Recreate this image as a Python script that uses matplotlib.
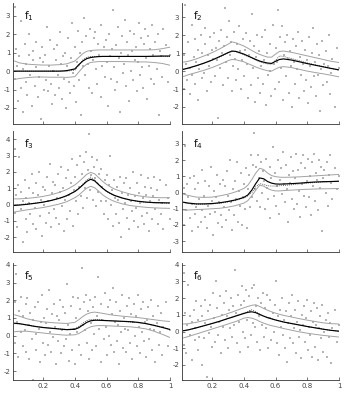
import matplotlib
matplotlib.use("Agg")
import matplotlib.pyplot as plt

plt.rcParams["font.family"] = ["DejaVu Sans"]
plt.rcParams["axes.unicode_minus"] = False

# ---- sample locations (shared by all six functions) ----
x_obs = [0.02, 0.025, 0.03, 0.037, 0.044, 0.05, 0.058, 0.063, 0.07, 0.076,
         0.083, 0.09, 0.095, 0.101, 0.108, 0.114, 0.12, 0.127, 0.133, 0.139,
         0.146, 0.152, 0.158, 0.165, 0.171, 0.178, 0.184, 0.19, 0.197, 0.203,
         0.21, 0.216, 0.222, 0.229, 0.235, 0.242, 0.248, 0.254, 0.261, 0.267,
         0.274, 0.28, 0.286, 0.293, 0.299, 0.306, 0.312, 0.318, 0.325, 0.331,
         0.338, 0.344, 0.35, 0.357, 0.363, 0.37, 0.376, 0.382, 0.389, 0.395,
         0.402, 0.408, 0.414, 0.421, 0.427, 0.434, 0.44, 0.446, 0.453, 0.459,
         0.466, 0.472, 0.478, 0.485, 0.491, 0.498, 0.504, 0.51, 0.517, 0.523,
         0.53, 0.536, 0.542, 0.549, 0.555, 0.562, 0.568, 0.574, 0.581, 0.587,
         0.594, 0.6, 0.606, 0.613, 0.619, 0.626, 0.632, 0.638, 0.645, 0.651,
         0.658, 0.664, 0.67, 0.677, 0.683, 0.69, 0.696, 0.702, 0.709, 0.715,
         0.722, 0.728, 0.734, 0.741, 0.747, 0.754, 0.76, 0.766, 0.773, 0.779,
         0.786, 0.792, 0.798, 0.805, 0.811, 0.818, 0.824, 0.83, 0.837, 0.843,
         0.85, 0.856, 0.862, 0.869, 0.875, 0.882, 0.888, 0.894, 0.901, 0.907,
         0.916, 0.923, 0.93, 0.937, 0.944, 0.951, 0.958, 0.972, 0.986, 0.999]

y1_obs = [3.5, -0.4, 1.2, 0.3, -1.6, 0.8, 2.7, -0.9, 0.1, -2.2,
          1.5, -0.6, 0.4, -1.3, 0.9, 2.0, -0.2, -1.9, 0.6, 1.1,
          -0.8, 0.2, 1.6, -1.4, -0.3, 0.7, -2.6, 1.3, 0.5, -1.0,
          0.9, -0.5, 2.4, -1.1, 0.3, 1.7, -0.7, -1.8, 0.0, 1.2,
          -1.3, 0.6, 1.4, -0.2, -0.9, 2.1, 0.4, -1.5, 0.8, -0.4,
          1.0, -2.0, 0.3, 1.8, -0.6, -1.2, 0.7, 2.6, -0.1, -0.8,
          1.3, -1.7, 0.5, 2.2, -0.5, 1.0, -2.4, 1.6, 0.3, 2.9,
          -0.2, 1.9, 3.8, 0.4, -0.9, 2.3, 1.1, -1.2, 0.6, 1.8,
          2.1, 0.1, -0.7, 1.5, 0.9, -1.4, 2.5, 0.3, 1.3, -0.3,
          1.7, 0.5, -1.9, 2.0, 0.8, -0.4, 1.2, 3.3, 0.2, -1.0,
          1.4, -0.6, 2.4, 0.7, -2.2, 1.0, 1.9, -0.1, 0.4, 2.8,
          -0.8, 1.6, 0.9, -1.6, 2.2, 0.0, 1.1, -0.5, 2.0, 0.6,
          1.3, -1.1, 0.5, 2.6, -0.2, 1.8, 0.2, -0.9, 1.5, 2.3,
          0.7, -1.5, 1.9, 0.3, 1.2, -0.4, 2.5, 0.9, -0.7, 1.6,
          0.1, 2.0, -2.4, 1.1, 0.8, -0.3, 2.3, 1.4, -0.6, 0.9]

y2_obs = [0.9, -1.0, 3.7, 0.4, -0.5, 1.6, -1.3, 0.2, 2.6, -0.2,
          0.8, 1.8, -0.7, 0.5, -1.6, 1.2, 0.1, 2.0, -0.4, 1.0,
          -0.1, 1.5, 2.4, -1.1, 0.9, 0.3, 1.9, -0.6, 1.2, 0.7,
          2.1, -0.3, 1.3, 0.6, -2.6, 1.7, 0.2, 2.3, 1.0, -0.8,
          1.4, 3.5, 0.5, 1.9, -0.4, 2.8, 0.9, 1.6, -1.1, 0.3,
          2.2, 0.7, -0.5, 1.5, 0.1, 2.5, 1.1, -1.0, 0.6, 1.8,
          -0.3, 1.2, 2.1, 0.4, -1.5, 0.9, 1.7, -0.8, 3.2, 0.2,
          1.4, -1.7, 0.8, 2.0, -0.4, 1.1, -1.2, 0.3, 1.9, -0.7,
          0.6, 2.3, -1.9, 1.0, -0.2, 1.5, 0.0, -1.4, 2.6, 0.4,
          -1.0, 1.3, 0.5, 3.4, -0.6, 1.9, 0.2, 2.5, -1.6, 0.9,
          1.6, -0.3, 2.0, 0.7, -1.2, 1.1, 0.3, -2.0, 1.8, 0.5,
          -0.7, 1.4, 0.1, 2.2, -1.5, 0.8, -0.2, 1.7, 0.4, -1.1,
          1.2, -0.5, 0.6, -1.8, 1.9, 0.3, -0.9, 1.0, 2.4, -0.3,
          0.5, -1.4, 1.5, -0.2, 0.9, -2.2, 0.1, 1.7, -0.8, 0.4,
          1.1, -0.6, 0.3, 2.0, -1.3, -0.1, 0.7, -2.0, 1.3, 0.2]

y3_obs = [-0.5, 3.4, 0.6, -1.4, 1.2, 2.9, -0.3, 0.8, -2.3, 0.2,
          1.5, -0.9, 0.4, -1.7, 1.0, 0.1, -0.6, 1.9, -1.2, 0.7,
          -0.2, 1.3, -1.5, 0.6, 2.0, -0.7, 0.3, -1.9, 1.1, 0.0,
          0.9, -1.1, 1.7, 0.2, -0.5, 2.5, -1.4, 0.7, 1.4, -0.3,
          1.2, -0.8, 0.4, 1.9, -1.2, 0.8, 2.3, -0.1, 1.0, -1.6,
          0.3, 1.6, -0.9, 2.1, 0.6, -0.4, 1.3, 2.8, -1.3, 0.9,
          1.7, 0.2, 2.4, -0.6, 1.1, 3.0, 0.5, 1.9, -0.2, 2.6,
          1.0, 3.2, 0.4, 2.1, 4.3, 0.9, 1.8, 2.9, 0.3, 2.3,
          1.6, -0.1, 2.7, 0.8, 1.9, 0.2, 2.2, 1.1, -0.6, 1.5,
          0.2, 1.8, -0.9, 1.2, 3.0, 0.0, 0.9, -1.3, 1.5, 0.4,
          -0.6, 1.1, 0.3, -1.1, 1.7, -2.0, 0.7, -0.3, 1.3, 0.1,
          1.6, -0.8, 0.6, -1.5, 1.0, 0.2, -0.4, 2.0, -1.0, 0.5,
          -0.2, 1.3, -1.4, 0.7, 0.1, 1.8, -0.7, 0.4, -1.2, 1.1,
          0.6, -0.5, 1.6, -1.6, 0.2, 1.0, -0.9, 0.5, 1.7, -0.3,
          0.9, -1.2, 0.3, 1.5, -0.6, 0.1, -1.5, 1.2, 0.4, -0.9]

y4_obs = [0.3, -2.0, 2.9, -1.1, 0.5, -0.3, -1.6, 0.9, -2.4, -0.7,
          1.0, -1.3, 0.2, -0.9, -2.1, 0.6, -0.4, -1.8, 1.4, -1.1,
          -0.2, -1.5, 0.7, -2.2, -0.8, 0.4, -1.3, 1.6, -0.5, -2.6,
          0.1, -1.2, -0.3, 1.1, -1.9, -0.6, 0.5, -1.4, -2.1, 0.8,
          -0.9, 0.4, -1.7, 1.3, -0.2, -1.1, 2.0, -0.6, -2.3, 0.2,
          -1.4, 0.7, -0.4, 1.9, -1.8, 0.1, -0.8, 1.2, -2.0, -0.3,
          0.5, -1.0, 1.5, -2.2, 0.2, 1.1, -0.9, 2.3, -0.3, 1.7,
          3.7, 0.2, 1.6, -0.5, 2.3, 0.9, -0.9, 1.9, 0.0, 1.3,
          0.7, -1.0, 2.1, 0.3, -0.4, 1.6, -1.6, 0.9, 2.8, -0.2,
          1.2, -0.8, 0.4, 2.0, -1.3, 0.8, 1.5, -0.1, 2.5, 0.5,
          -0.6, 1.7, 0.2, -1.8, 1.1, 0.6, 2.2, -0.4, 1.3, -1.0,
          0.9, 2.4, -0.7, 1.4, 0.1, -1.5, 1.8, 0.5, 2.3, -0.2,
          1.5, -0.9, 0.7, 2.1, -0.3, 1.0, -1.4, 1.9, 0.4, 2.4,
          -0.5, 1.2, 0.8, -1.1, 2.0, 0.3, 1.6, -2.4, 0.9, 1.4,
          0.0, 1.9, -0.8, 1.1, 2.3, 0.6, -0.4, 1.5, 0.2, 1.0]

y5_obs = [1.9, -0.4, 3.5, 0.8, -1.2, 1.4, 0.2, 2.2, -0.6, 1.1,
          0.3, 1.8, -0.9, 2.1, 0.6, -1.3, 1.3, -0.2, 0.9, -2.5,
          1.6, 0.1, -0.8, 1.9, 0.4, -1.5, 0.8, 2.3, -0.4, 1.0,
          -1.1, 0.7, 1.5, -0.5, 2.6, 0.2, -0.9, 1.2, -0.1, 1.8,
          0.5, -1.6, 1.1, -0.3, 0.9, 2.0, -1.0, 0.3, 1.6, -0.6,
          1.3, -0.2, 2.9, 0.6, -1.4, 0.1, 1.7, -0.8, 2.2, 0.4,
          -1.6, 1.0, 0.2, 2.1, -0.5, 1.5, -1.1, 3.8, 0.6, 1.9,
          0.3, 2.3, -0.4, 1.4, -1.3, 2.0, 0.7, -0.8, 1.6, 0.1,
          2.2, -0.6, 1.1, 3.3, 0.4, -1.5, 1.8, 0.9, -0.2, 2.4,
          0.5, -1.1, 1.6, 0.0, 2.0, -0.5, 1.2, 2.7, -0.9, 0.8,
          1.9, -0.3, 0.6, -1.6, 1.4, 0.2, 2.3, -0.7, 1.0, 0.4,
          -0.9, 1.7, 0.3, 2.1, -0.4, 1.2, -1.3, 0.8, 1.8, 0.0,
          1.1, -0.6, 2.3, 0.5, -1.0, 1.5, 0.2, 1.9, -0.3, 0.8,
          -1.2, 0.9, 1.6, -0.2, 0.4, 2.0, -0.8, 1.1, 0.3, -1.5,
          0.7, 1.7, -0.5, 0.2, 1.3, -1.1, 0.5, 1.9, -0.6, 0.3]

y6_obs = [3.5, -0.8, 1.1, -1.3, 0.4, 2.8, -0.2, 0.9, -1.7, 0.6,
          1.3, -0.5, 0.2, 1.8, -1.1, 0.7, -0.3, 1.5, -2.0, 0.9,
          -0.4, 1.9, 0.5, -2.7, 1.2, -0.1, 1.6, 0.3, -0.9, 2.3,
          0.8, -0.6, 3.0, 1.4, -0.2, 0.6, 2.1, -1.3, 1.0, 0.3,
          1.7, -0.5, 2.4, 0.9, -1.0, 1.3, 0.2, 2.0, -0.3, 1.5,
          0.4, 3.7, 1.1, -0.7, 2.2, 0.6, -1.2, 1.6, 2.7, 0.0,
          1.8, -0.4, 2.5, 0.7, -0.9, 2.1, 1.2, -0.2, 2.6, 0.5,
          2.8, 0.3, 1.5, -0.6, 2.0, 0.9, -1.1, 1.7, 0.4, 2.3,
          -0.3, 1.4, 0.2, 2.2, -1.0, 0.8, 1.9, -0.5, 1.1, 0.0,
          1.6, 3.0, -0.7, 0.9, -1.4, 1.3, 0.3, 2.0, -0.2, 0.7,
          -1.0, 1.2, -1.8, 0.5, 1.7, -0.4, 0.9, 2.2, -0.7, 0.2,
          1.3, -1.3, 0.6, 1.8, -0.3, 0.1, -1.6, 1.0, 0.4, 1.5,
          -0.6, 0.8, 1.9, -1.1, 0.3, -0.2, 1.2, -1.5, 0.6, 1.7,
          -0.9, 0.4, 1.4, -1.7, 0.2, 0.9, -0.4, 1.6, -1.2, 0.0,
          0.7, -1.5, 1.1, -0.3, 0.5, -1.9, 0.2, 1.3, -0.6, 0.4]

# ---- curve knots (estimate, truth, band) ----
x_grid = [0.02, 0.05, 0.1, 0.15, 0.2, 0.25, 0.3, 0.325, 0.35, 0.4, 0.425, 0.45, 0.475,
          0.5, 0.525, 0.55, 0.575, 0.6, 0.625, 0.65, 0.7, 0.75, 0.8, 0.85, 0.9, 0.95, 1.0]

f1_mean = [0, 0, 0, 0, 0, 0, 0, 0.01, 0.03, 0.12, 0.35, 0.55, 0.68,
           0.74, 0.77, 0.79, 0.8, 0.8, 0.8, 0.8, 0.8, 0.8, 0.8, 0.8, 0.81, 0.82, 0.82]
f1_true = [0, 0, 0, 0, 0, 0, 0, 0, 0, 0.05, 0.3, 0.6, 0.75,
           0.8, 0.8, 0.8, 0.8, 0.8, 0.8, 0.8, 0.8, 0.8, 0.8, 0.8, 0.8, 0.8, 0.8]
f1_up = [0.55, 0.45, 0.38, 0.35, 0.33, 0.33, 0.35, 0.37, 0.4, 0.55, 0.75, 0.95, 1.08,
         1.12, 1.14, 1.15, 1.15, 1.15, 1.15, 1.15, 1.15, 1.15, 1.15, 1.15, 1.16, 1.22, 1.3]
f1_lo = [-0.45, -0.4, -0.35, -0.32, -0.32, -0.33, -0.33, -0.33, -0.34, -0.3, -0.05, 0.2, 0.38,
         0.47, 0.5, 0.52, 0.52, 0.52, 0.52, 0.52, 0.52, 0.51, 0.5, 0.5, 0.47, 0.42, 0.32]

f2_mean = [0.1, 0.17, 0.3, 0.45, 0.62, 0.82, 1.03, 1.12, 1.1, 0.95, 0.85, 0.75, 0.65,
           0.56, 0.5, 0.45, 0.43, 0.55, 0.65, 0.68, 0.62, 0.52, 0.42, 0.33, 0.24, 0.15, 0.07]
f2_true = [0.12, 0.18, 0.3, 0.44, 0.6, 0.8, 1.0, 1.1, 1.08, 0.92, 0.82, 0.72, 0.62,
           0.52, 0.45, 0.4, 0.38, 0.6, 0.85, 0.82, 0.7, 0.58, 0.46, 0.35, 0.25, 0.15, 0.06]
f2_up = [0.5, 0.55, 0.68, 0.85, 1.03, 1.25, 1.5, 1.63, 1.58, 1.4, 1.28, 1.15, 1.03,
         0.93, 0.85, 0.78, 0.78, 0.95, 1.1, 1.12, 1.05, 0.95, 0.85, 0.75, 0.65, 0.55, 0.48]
f2_lo = [-0.3, -0.2, -0.08, 0.05, 0.2, 0.38, 0.58, 0.65, 0.63, 0.52, 0.42, 0.33, 0.23,
         0.15, 0.08, 0.02, 0.0, 0.12, 0.22, 0.25, 0.2, 0.1, 0.0, -0.08, -0.15, -0.23, -0.32]

f3_mean = [-0.05, -0.03, 0.02, 0.08, 0.15, 0.25, 0.38, 0.46, 0.55, 0.8, 0.98, 1.2, 1.42,
           1.55, 1.45, 1.22, 1.0, 0.82, 0.68, 0.56, 0.4, 0.28, 0.2, 0.15, 0.12, 0.11, 0.1]
f3_true = [0.0, 0.01, 0.04, 0.09, 0.16, 0.25, 0.37, 0.45, 0.54, 0.8, 1.0, 1.25, 1.5,
           1.68, 1.5, 1.25, 1.0, 0.8, 0.66, 0.54, 0.38, 0.27, 0.19, 0.14, 0.11, 0.1, 0.09]
f3_up = [0.35, 0.35, 0.38, 0.43, 0.5, 0.6, 0.74, 0.83, 0.92, 1.2, 1.4, 1.62, 1.85,
         1.97, 1.88, 1.65, 1.42, 1.23, 1.08, 0.95, 0.78, 0.64, 0.54, 0.47, 0.43, 0.42, 0.42]
f3_lo = [-0.45, -0.4, -0.32, -0.25, -0.18, -0.08, 0.03, 0.1, 0.18, 0.42, 0.58, 0.8, 1.0,
         1.12, 1.03, 0.82, 0.6, 0.43, 0.3, 0.19, 0.04, -0.06, -0.12, -0.17, -0.2, -0.22, -0.23]

f4_mean = [-0.6, -0.65, -0.7, -0.7, -0.68, -0.63, -0.55, -0.5, -0.45, -0.3, -0.15, 0.15, 0.55,
           0.9, 0.85, 0.68, 0.58, 0.53, 0.52, 0.53, 0.55, 0.58, 0.62, 0.65, 0.67, 0.68, 0.7]
f4_true = [-0.62, -0.68, -0.72, -0.72, -0.7, -0.66, -0.58, -0.53, -0.48, -0.33, -0.2, 0.0, 0.35,
           0.55, 0.5, 0.42, 0.4, 0.4, 0.42, 0.44, 0.48, 0.53, 0.58, 0.62, 0.65, 0.68, 0.7]
f4_up = [-0.1, -0.18, -0.28, -0.3, -0.28, -0.2, -0.1, -0.03, 0.05, 0.25, 0.45, 0.8, 1.2,
         1.5, 1.42, 1.2, 1.05, 0.98, 0.95, 0.94, 0.95, 0.97, 1.0, 1.03, 1.06, 1.09, 1.12]
f4_lo = [-1.08, -1.08, -1.05, -1.03, -1.0, -0.97, -0.9, -0.85, -0.8, -0.65, -0.5, -0.2, 0.15,
         0.45, 0.4, 0.25, 0.15, 0.1, 0.1, 0.12, 0.15, 0.18, 0.2, 0.22, 0.23, 0.24, 0.25]

f5_mean = [0.7, 0.68, 0.6, 0.52, 0.46, 0.42, 0.38, 0.36, 0.34, 0.36, 0.45, 0.6, 0.75,
           0.84, 0.87, 0.87, 0.86, 0.85, 0.84, 0.83, 0.81, 0.79, 0.75, 0.68, 0.58, 0.47, 0.35]
f5_true = [0.68, 0.66, 0.6, 0.53, 0.47, 0.42, 0.38, 0.36, 0.35, 0.4, 0.52, 0.7, 0.85,
           0.92, 0.92, 0.9, 0.88, 0.86, 0.84, 0.83, 0.8, 0.77, 0.73, 0.67, 0.58, 0.47, 0.35]
f5_up = [1.18, 1.1, 0.95, 0.85, 0.78, 0.74, 0.71, 0.7, 0.69, 0.75, 0.9, 1.08, 1.22,
         1.3, 1.33, 1.3, 1.26, 1.22, 1.18, 1.15, 1.1, 1.06, 1.02, 0.96, 0.9, 0.84, 0.8]
f5_lo = [0.22, 0.25, 0.25, 0.2, 0.15, 0.1, 0.06, 0.04, 0.03, 0.05, 0.12, 0.25, 0.4,
         0.5, 0.55, 0.57, 0.57, 0.56, 0.55, 0.54, 0.52, 0.5, 0.45, 0.38, 0.25, 0.08, -0.1]

f6_mean = [0.05, 0.1, 0.22, 0.35, 0.48, 0.62, 0.78, 0.85, 0.93, 1.08, 1.15, 1.18, 1.13,
           1.02, 0.92, 0.83, 0.76, 0.69, 0.63, 0.57, 0.48, 0.39, 0.3, 0.22, 0.14, 0.07, 0.02]
f6_true = [0.05, 0.1, 0.22, 0.35, 0.49, 0.63, 0.79, 0.87, 0.95, 1.1, 1.2, 1.3, 1.2,
           1.05, 0.93, 0.83, 0.76, 0.69, 0.63, 0.57, 0.48, 0.39, 0.3, 0.22, 0.14, 0.07, 0.02]
f6_up = [0.45, 0.47, 0.55, 0.66, 0.78, 0.92, 1.08, 1.16, 1.25, 1.42, 1.5, 1.57, 1.6,
         1.5, 1.38, 1.27, 1.18, 1.1, 1.03, 0.97, 0.87, 0.77, 0.68, 0.6, 0.52, 0.47, 0.45]
f6_lo = [-0.38, -0.3, -0.15, 0.0, 0.15, 0.3, 0.45, 0.53, 0.6, 0.8, 0.84, 0.8, 0.72,
         0.6, 0.5, 0.42, 0.35, 0.3, 0.24, 0.18, 0.08, -0.02, -0.1, -0.17, -0.23, -0.28, -0.33]

labels = ["1", "2", "3", "4", "5", "6"]
y_obs = [y1_obs, y2_obs, y3_obs, y4_obs, y5_obs, y6_obs]
means = [f1_mean, f2_mean, f3_mean, f4_mean, f5_mean, f6_mean]
trues = [f1_true, f2_true, f3_true, f4_true, f5_true, f6_true]
ups = [f1_up, f2_up, f3_up, f4_up, f5_up, f6_up]
los = [f1_lo, f2_lo, f3_lo, f4_lo, f5_lo, f6_lo]
ylims = [(-2.87, 3.7), (-2.95, 3.8), (-2.9, 4.5), (-3.67, 3.8), (-2.5, 4.1), (-2.9, 4.1)]

W, H = 350, 397
fig = plt.figure(figsize=(W / 100, H / 100), dpi=100)

col_left = [13, 182]
col_w = 157
rows = [(3, 124), (131, 252), (263, 380)]

for i in range(6):
    r, c = divmod(i, 2)
    top, bot = rows[r]
    ax = fig.add_axes([col_left[c] / W, 1 - bot / H, col_w / W, (bot - top) / H])
    ax.scatter(x_obs, y_obs[i], s=1.0, color="#b4b4b4", marker="s", linewidths=0)
    ax.plot(x_grid, ups[i], color="#a2a2a2", lw=0.7)
    ax.plot(x_grid, los[i], color="#a2a2a2", lw=0.7)
    ax.plot(x_grid, trues[i], color="#333333", lw=0.6, ls=(0, (1, 1.5)))
    ax.plot(x_grid, means[i], color="#000000", lw=0.85)
    ax.set_xlim(0.01, 1.0)
    ax.set_ylim(*ylims[i])
    ax.set_xticks([0.2, 0.4, 0.6, 0.8, 1.0])
    ax.set_yticks([t for t in range(-3, 5) if ylims[i][0] <= t <= ylims[i][1]])
    if r == 2:
        ax.set_xticklabels(["0.2", "0.4", "0.6", "0.8", "1"])
    else:
        ax.set_xticklabels([])
    for s in ("top", "right"):
        ax.spines[s].set_visible(False)
    for s in ("left", "bottom"):
        ax.spines[s].set_color("#333333")
        ax.spines[s].set_linewidth(0.6)
    ax.tick_params(direction="in", length=2, width=0.5, labelsize=5,
                   colors="#444444", pad=2)
    ax.text(0.07, 0.89, r"$\mathregular{f_{%s}}$" % labels[i], transform=ax.transAxes,
            fontsize=7.5, color="#111111", va="center", ha="left")

fig.savefig("out.png", dpi=100)
